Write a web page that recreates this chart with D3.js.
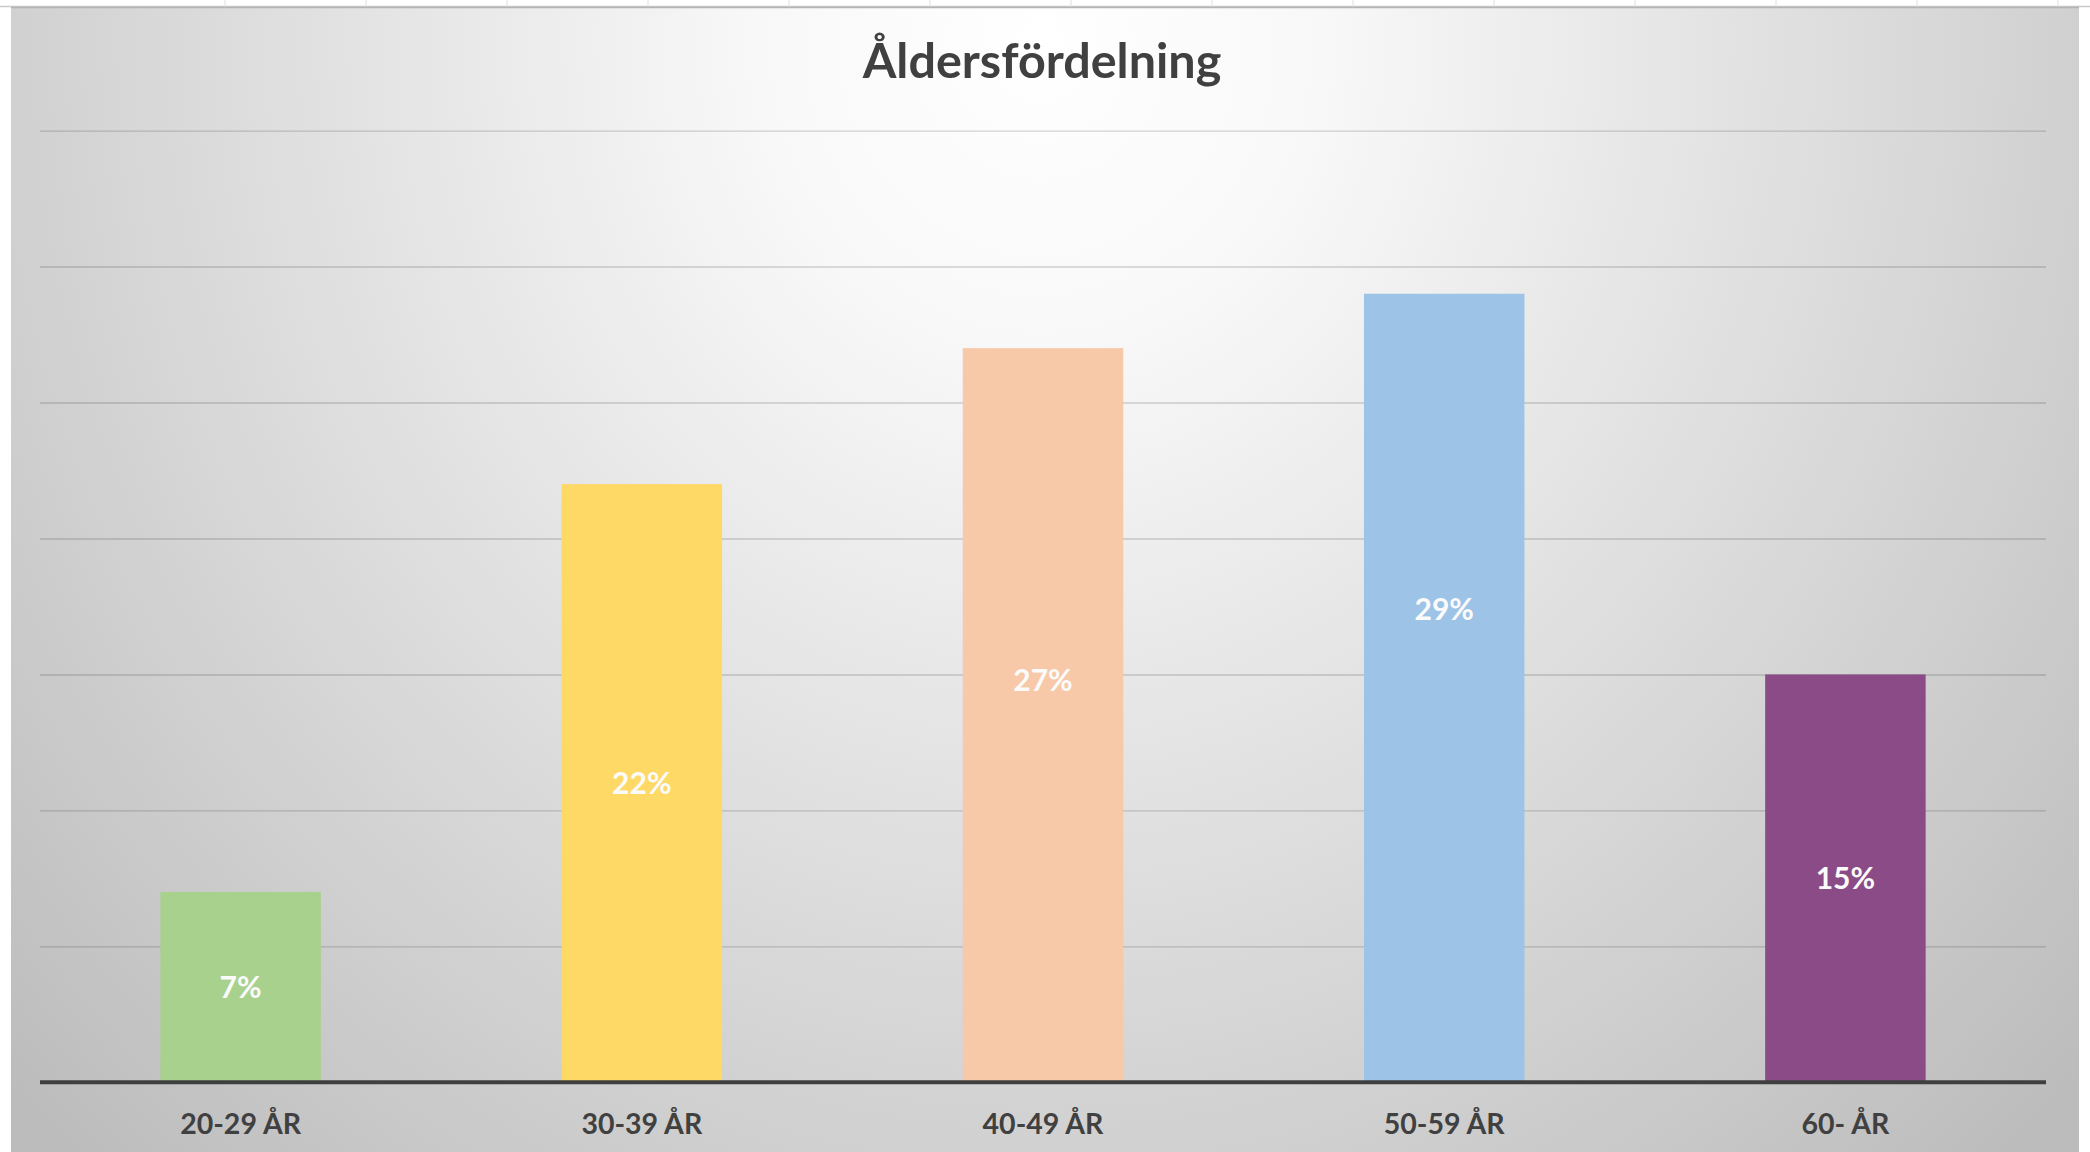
<!DOCTYPE html>
<html lang="sv">
<head>
<meta charset="utf-8">
<title>Åldersfördelning</title>
<script src="https://cdn.jsdelivr.net/npm/d3@7"></script>
<style>
  html, body { margin: 0; padding: 0; background: #ffffff; }
  svg { display: block; }
</style>
</head>
<body>
<svg id="chart" width="2090" height="1152"></svg>
<script>
// Age groups and their share of the total (percent)
const categories = ["20-29 ÅR", "30-39 ÅR", "40-49 ÅR", "50-59 ÅR", "60- ÅR"];
const shares = [7, 22, 27, 29, 15];
const barColors = ["#A9D18E", "#FFD966", "#F7C9A9", "#9DC3E6", "#8A4B87"];
// Value gridlines (percent)
const yTicks = [0, 5, 10, 15, 20, 25, 30, 35];
// Data labels that were dragged away from the bar middle (percent units, null = centred)
const labelAnchors = [null, null, 14.8, 17.4, null];

const W = 2090, H = 1152;
const panel = { x: 11, y: 7, w: 2068, h: H - 7 };
const plot = { left: 40, right: 2046, top: 130.6, bottom: 1082.3 };
const font = "Lato, 'Open Sans', 'DejaVu Sans', sans-serif";

const svg = d3.select("#chart");
const defs = svg.append("defs");

// Soft radial background, bright at the top centre
const bg = defs.append("radialGradient")
  .attr("id", "panelFill")
  .attr("gradientUnits", "userSpaceOnUse")
  .attr("cx", 1040).attr("cy", 40).attr("r", 1420)
  .attr("gradientTransform", "translate(1040,40) scale(1,1.08) translate(-1040,-40)");
bg.append("stop").attr("offset", 0).attr("stop-color", "#ffffff");
bg.append("stop").attr("offset", 0.2).attr("stop-color", "#f8f8f8");
bg.append("stop").attr("offset", 1).attr("stop-color", "#bcbcbc");

// Ruler line along the top of the slide
const ruler = svg.append("g").attr("class", "ruler");
ruler.append("line")
  .attr("x1", 0).attr("x2", W).attr("y1", 6.5).attr("y2", 6.5)
  .attr("stroke", "#c9c9c9").attr("stroke-width", 1.5);
ruler.selectAll("line.tick")
  .data(d3.range(225, 2060, 141))
  .join("line")
  .attr("class", "tick")
  .attr("x1", d => d).attr("x2", d => d)
  .attr("y1", 0).attr("y2", 12)
  .attr("stroke", "#e0e0e0").attr("stroke-width", 1);

svg.append("rect")
  .attr("x", panel.x).attr("y", panel.y)
  .attr("width", panel.w).attr("height", panel.h)
  .attr("fill", "url(#panelFill)");
svg.append("line")
  .attr("x1", panel.x).attr("x2", panel.x + panel.w)
  .attr("y1", panel.y + 0.5).attr("y2", panel.y + 0.5)
  .attr("stroke", "#b4b4b4").attr("stroke-width", 1.5);

// Scales
const x = d3.scaleBand()
  .domain(categories)
  .range([plot.left, plot.right])
  .paddingInner(0.6)
  .paddingOuter(0.3);

const y = d3.scaleLinear()
  .domain([0, d3.max(yTicks)])
  .range([plot.bottom, plot.top]);

// Horizontal gridlines
const yGrid = d3.axisLeft(y)
  .tickValues(yTicks.filter(t => t > 0))
  .tickSize(-(plot.right - plot.left))
  .tickFormat("");
const gGrid = svg.append("g")
  .attr("transform", `translate(${plot.left},0)`)
  .call(yGrid);
gGrid.select(".domain").remove();
gGrid.selectAll(".tick line")
  .attr("stroke", "#000000")
  .attr("stroke-opacity", 0.17)
  .attr("stroke-width", 1.4);

// Bars
const rows = categories.map((c, i) => ({
  cat: c, value: shares[i], color: barColors[i], anchor: labelAnchors[i]
}));

svg.append("g")
  .selectAll("rect")
  .data(rows)
  .join("rect")
  .attr("x", d => x(d.cat))
  .attr("y", d => y(d.value))
  .attr("width", x.bandwidth())
  .attr("height", d => y(0) - y(d.value))
  .attr("fill", d => d.color);

// Category axis
const xAxis = d3.axisBottom(x).tickSize(0).tickPadding(0);
const gX = svg.append("g")
  .attr("transform", `translate(0,${plot.bottom})`)
  .call(xAxis);
gX.select(".domain")
  .attr("stroke", "#3f3f3f")
  .attr("stroke-width", 4)
  .attr("d", `M${plot.left},0H${plot.right}`);
gX.selectAll(".tick text")
  .attr("dy", 0)
  .attr("y", 52)
  .attr("fill", "#404040")
  .style("font-family", font)
  .style("font-weight", 700)
  .style("font-size", "28.5px");

// Data labels
svg.append("g")
  .selectAll("text")
  .data(rows)
  .join("text")
  .attr("x", d => x(d.cat) + x.bandwidth() / 2)
  .attr("y", d => y(d.anchor == null ? d.value / 2 : d.anchor))
  .attr("dy", "0.36em")
  .attr("text-anchor", "middle")
  .attr("fill", "#fbfbfb")
  .style("font-family", font)
  .style("font-weight", 700)
  .style("font-size", "30px")
  .text(d => d3.format("d")(d.value) + "%");

// Title
svg.append("text")
  .attr("x", 1042)
  .attr("y", 78)
  .attr("text-anchor", "middle")
  .attr("fill", "#404040")
  .style("font-family", font)
  .style("font-weight", 700)
  .style("font-size", "48.5px")
  .text("Åldersfördelning");
</script>
</body>
</html>
